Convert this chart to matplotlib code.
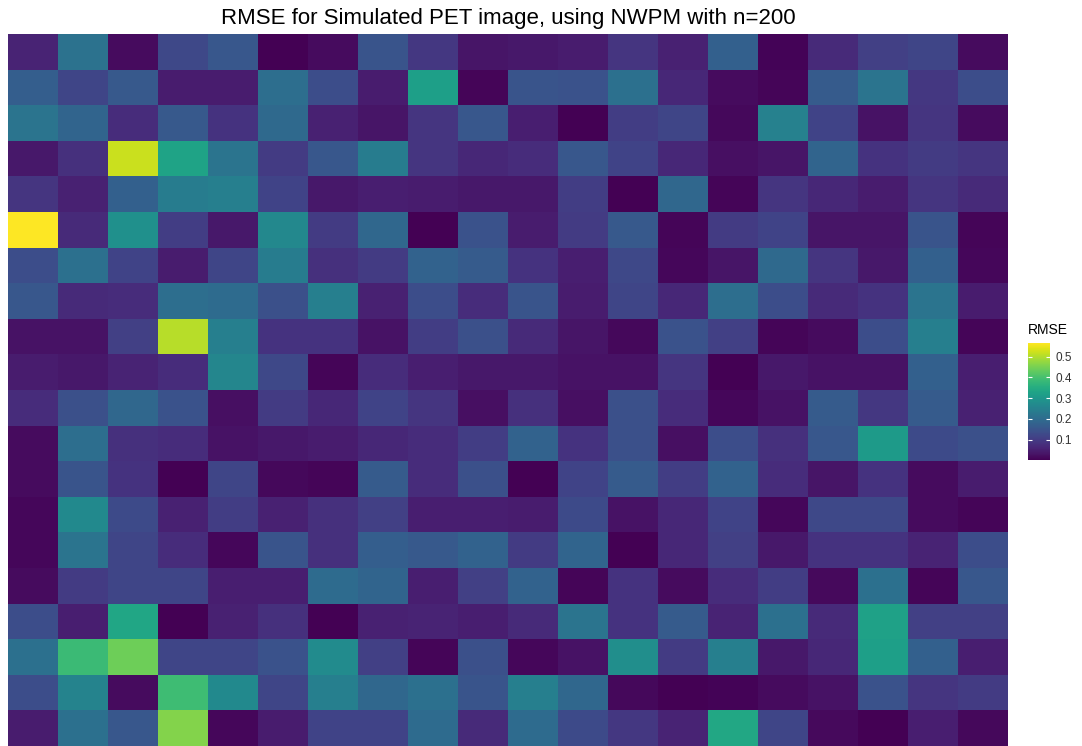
import numpy as np
import matplotlib
matplotlib.use("Agg")
import matplotlib.pyplot as plt

plt.rcParams['font.family'] = ['Liberation Sans', 'DejaVu Sans']

title = "RMSE for Simulated PET image, using NWPM with n=200"
legend_title = "RMSE"
cbar_ticks = [0.1, 0.2, 0.3, 0.4, 0.5]

# RMSE per voxel, rows listed top to bottom
rmse = np.array([
    [0.060, 0.215, 0.020, 0.125, 0.155, 0.005, 0.020, 0.150, 0.095, 0.035, 0.040, 0.045, 0.090, 0.055, 0.175, 0.008, 0.070, 0.110, 0.120, 0.020],
    [0.170, 0.120, 0.160, 0.045, 0.045, 0.205, 0.135, 0.045, 0.320, 0.010, 0.150, 0.145, 0.210, 0.065, 0.020, 0.010, 0.165, 0.220, 0.095, 0.135],
    [0.220, 0.185, 0.075, 0.160, 0.085, 0.195, 0.055, 0.035, 0.090, 0.155, 0.050, 0.003, 0.105, 0.120, 0.015, 0.250, 0.115, 0.030, 0.090, 0.020],
    [0.040, 0.080, 0.520, 0.330, 0.220, 0.100, 0.155, 0.240, 0.090, 0.065, 0.075, 0.155, 0.115, 0.065, 0.025, 0.035, 0.185, 0.085, 0.100, 0.090],
    [0.090, 0.055, 0.175, 0.240, 0.245, 0.115, 0.040, 0.050, 0.045, 0.040, 0.040, 0.105, 0.005, 0.190, 0.010, 0.090, 0.065, 0.045, 0.090, 0.070],
    [0.565, 0.070, 0.285, 0.105, 0.040, 0.265, 0.100, 0.190, 0.005, 0.145, 0.045, 0.100, 0.160, 0.010, 0.100, 0.115, 0.035, 0.035, 0.150, 0.010],
    [0.135, 0.210, 0.115, 0.045, 0.120, 0.240, 0.080, 0.100, 0.180, 0.165, 0.085, 0.050, 0.125, 0.012, 0.035, 0.195, 0.090, 0.040, 0.175, 0.012],
    [0.155, 0.070, 0.075, 0.205, 0.200, 0.140, 0.245, 0.055, 0.135, 0.075, 0.150, 0.045, 0.120, 0.065, 0.205, 0.135, 0.070, 0.085, 0.220, 0.045],
    [0.030, 0.030, 0.110, 0.505, 0.245, 0.085, 0.085, 0.030, 0.105, 0.140, 0.070, 0.035, 0.015, 0.145, 0.110, 0.010, 0.020, 0.135, 0.245, 0.010],
    [0.045, 0.040, 0.060, 0.075, 0.260, 0.125, 0.010, 0.075, 0.050, 0.040, 0.040, 0.030, 0.030, 0.090, 0.005, 0.040, 0.030, 0.030, 0.175, 0.050],
    [0.075, 0.140, 0.190, 0.145, 0.025, 0.100, 0.065, 0.115, 0.090, 0.025, 0.080, 0.025, 0.140, 0.075, 0.012, 0.030, 0.165, 0.095, 0.165, 0.055],
    [0.020, 0.205, 0.080, 0.075, 0.030, 0.040, 0.045, 0.065, 0.075, 0.105, 0.180, 0.085, 0.140, 0.025, 0.135, 0.080, 0.155, 0.310, 0.130, 0.140],
    [0.020, 0.150, 0.085, 0.005, 0.120, 0.015, 0.010, 0.165, 0.075, 0.140, 0.005, 0.115, 0.165, 0.105, 0.180, 0.075, 0.035, 0.085, 0.020, 0.045],
    [0.012, 0.270, 0.130, 0.055, 0.105, 0.055, 0.080, 0.110, 0.050, 0.050, 0.045, 0.130, 0.030, 0.065, 0.115, 0.012, 0.125, 0.125, 0.020, 0.010],
    [0.012, 0.220, 0.120, 0.075, 0.012, 0.150, 0.080, 0.170, 0.160, 0.180, 0.100, 0.185, 0.005, 0.065, 0.110, 0.040, 0.085, 0.085, 0.060, 0.135],
    [0.020, 0.100, 0.120, 0.120, 0.050, 0.050, 0.200, 0.185, 0.050, 0.110, 0.180, 0.010, 0.085, 0.020, 0.075, 0.105, 0.018, 0.210, 0.010, 0.155],
    [0.135, 0.050, 0.335, 0.005, 0.055, 0.080, 0.005, 0.055, 0.060, 0.050, 0.070, 0.220, 0.085, 0.165, 0.060, 0.210, 0.070, 0.325, 0.110, 0.110],
    [0.210, 0.385, 0.440, 0.120, 0.120, 0.145, 0.275, 0.110, 0.010, 0.140, 0.012, 0.030, 0.280, 0.100, 0.245, 0.040, 0.065, 0.320, 0.175, 0.050],
    [0.135, 0.255, 0.020, 0.390, 0.270, 0.120, 0.245, 0.190, 0.210, 0.150, 0.245, 0.190, 0.015, 0.005, 0.008, 0.020, 0.030, 0.145, 0.090, 0.100],
    [0.045, 0.210, 0.155, 0.460, 0.012, 0.045, 0.115, 0.115, 0.200, 0.070, 0.200, 0.130, 0.095, 0.060, 0.340, 0.120, 0.018, 0.005, 0.050, 0.015],
])

fig = plt.figure(figsize=(10.82, 7.46), dpi=100)
ax = fig.add_axes([8 / 1082, 0, 1000 / 1082, 712 / 746])
vmin, vmax = rmse.min(), rmse.max()
im = ax.imshow(rmse, cmap='viridis', vmin=vmin, vmax=vmax, aspect='auto',
               interpolation='nearest')
ax.set_axis_off()
ax.set_title(title, fontsize=16, color='black', pad=7)

# legend bar on the right
cax = fig.add_axes([1028 / 1082, 1 - 460 / 746, 22 / 1082, 117 / 746])
cb = fig.colorbar(im, cax=cax, ticks=cbar_ticks)
cb.outline.set_visible(False)
cax.tick_params(length=0, labelsize=8.5, labelcolor='#333333', pad=4)
cax.set_yticklabels([f"{t:.1f}" for t in cbar_ticks])
tr = cax.get_yaxis_transform()
cax.hlines(cbar_ticks, 0, 0.2, colors='white', linewidth=0.8, transform=tr)
cax.hlines(cbar_ticks, 0.8, 1, colors='white', linewidth=0.8, transform=tr)
fig.text(1028 / 1082, 1 - 330 / 746, legend_title, fontsize=10, va='center', ha='left')

fig.savefig("out.png", dpi=100)
